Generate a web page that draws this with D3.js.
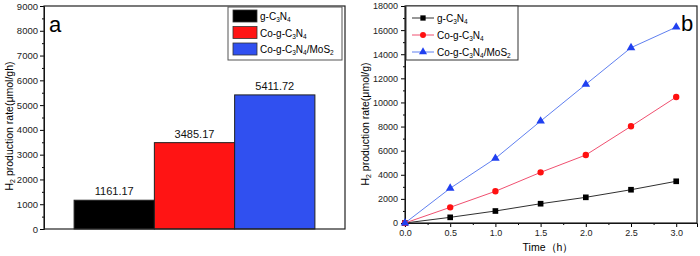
<!DOCTYPE html>
<html>
<head>
<meta charset="utf-8">
<script src="https://cdn.jsdelivr.net/npm/d3@7"></script>
<style>
  body { margin: 0; background: #fff; }
  svg { display: block; font-family: "Liberation Sans", Arial, sans-serif; }
</style>
</head>
<body>
<svg id="chart" width="700" height="256"></svg>
<script>
// panel a: bar values
const barCategories = ["g-C_{3}N_{4}", "Co-g-C_{3}N_{4}", "Co-g-C_{3}N_{4}/MoS_{2}"];
const barValues = [1161.17, 3485.17, 5411.72];
const barColors = ["#000000", "#ff1414", "#3050f0"];
const barTicks = [0, 1000, 2000, 3000, 4000, 5000, 6000, 7000, 8000, 9000];

// panel b: time series
const times = [0, 0.5, 1.0, 1.5, 2.0, 2.5, 3.0];
const seriesNames = ["g-C_{3}N_{4}", "Co-g-C_{3}N_{4}", "Co-g-C_{3}N_{4}/MoS_{2}"];
const gcnValues = [0, 470, 995, 1600, 2130, 2760, 3460];
const cogcnValues = [0, 1300, 2630, 4200, 5640, 8020, 10450];
const comosValues = [0, 2880, 5360, 8450, 11500, 14540, 16250];
const lineColors = ["#303030", "#f05070", "#6080f0"];
const markerColors = ["#000000", "#ff1010", "#2040f0"];
const timeTicks = [0, 0.5, 1.0, 1.5, 2.0, 2.5, 3.0];
const rateTicks = [0, 2000, 4000, 6000, 8000, 10000, 12000, 14000, 16000, 18000];

const svg = d3.select("#chart");

// write "a_{b}" style text with subscripts into a text element
function richText(sel, label, subSize) {
  const parts = label.split(/(_\{[^}]*\})/).filter(p => p.length);
  parts.forEach(p => {
    if (p.startsWith("_{")) {
      sel.append("tspan").attr("baseline-shift", "-30%")
        .style("font-size", subSize + "px").text(p.slice(2, -1));
    } else {
      sel.append("tspan").text(p);
    }
  });
}

function minorTicks(major) {
  const out = [];
  for (let i = 0; i < major.length - 1; i++) out.push((major[i] + major[i + 1]) / 2);
  return out;
}

// ---------- panel a ----------
const A = { left: 44, top: 6, width: 301, height: 223 };
const ga = svg.append("g").attr("transform", `translate(${A.left},${A.top})`);

const xa = d3.scaleBand().domain(barCategories).range([0, A.width])
  .paddingInner(0).paddingOuter(0.375);
const ya = d3.scaleLinear().domain([0, 9000]).range([A.height, 0]);

ga.selectAll("rect.bar")
  .data(barValues)
  .enter().append("rect")
  .attr("class", "bar")
  .attr("x", (d, i) => xa(barCategories[i]))
  .attr("y", d => ya(d))
  .attr("width", xa.bandwidth())
  .attr("height", d => A.height - ya(d))
  .style("fill", (d, i) => barColors[i])
  .style("stroke", "#202020")
  .style("stroke-width", 1);

ga.selectAll("text.val")
  .data(barValues)
  .enter().append("text")
  .attr("class", "val")
  .attr("x", (d, i) => xa(barCategories[i]) + xa.bandwidth() / 2)
  .attr("y", d => ya(d) - 5)
  .attr("text-anchor", "middle")
  .style("font-size", "11px")
  .style("fill", "#111")
  .text(d => d.toFixed(2));

// axes
ga.append("g")
  .call(d3.axisLeft(ya).tickValues(barTicks).tickSize(4).tickPadding(2).tickFormat(d3.format("d")))
  .call(g => g.selectAll("text").style("font-size", "9.5px").style("fill", "#222"));
ga.append("g")
  .call(d3.axisLeft(ya).tickValues(minorTicks(barTicks)).tickSize(2).tickFormat(""))
  .call(g => g.select(".domain").remove());
ga.append("rect").attr("width", A.width).attr("height", A.height)
  .style("fill", "none").style("stroke", "#222").style("stroke-width", 1.2);

ga.append("text").attr("x", 5).attr("y", 26)
  .style("font-size", "22px").text("a");

svg.append("text")
  .attr("transform", `translate(13,126) rotate(-90)`)
  .attr("text-anchor", "middle")
  .style("font-size", "10.5px")
  .call(t => richText(t, "H_{2} production rate(μmol/gh)", 7));

// legend a
const la = svg.append("g").attr("transform", "translate(228,7)");
la.append("rect").attr("width", 114).attr("height", 53)
  .style("fill", "#fff").style("stroke", "#555").style("stroke-width", 1);
barCategories.forEach((c, i) => {
  la.append("rect").attr("x", 5).attr("y", 3 + i * 16.5).attr("width", 24).attr("height", 12)
    .style("fill", barColors[i]).style("stroke", "#333").style("stroke-width", 0.8);
  la.append("text").attr("x", 32).attr("y", 13 + i * 16.5)
    .style("font-size", "10px")
    .call(t => richText(t, c, 6.5));
});

// ---------- panel b ----------
const B = { left: 405, top: 6, width: 292, height: 217 };
const gb = svg.append("g").attr("transform", `translate(${B.left},${B.top})`);

const xb = d3.scaleLinear().domain([0, 3.23]).range([0, B.width]);
const yb = d3.scaleLinear().domain([0, 18000]).range([B.height, 0]);

gb.append("g").attr("transform", `translate(0,${B.height})`)
  .call(d3.axisBottom(xb).tickValues(timeTicks).tickSize(4).tickPadding(3).tickFormat(d3.format(".1f")))
  .call(g => g.selectAll("text").style("font-size", "9px").style("fill", "#222"));
gb.append("g").attr("transform", `translate(0,${B.height})`)
  .call(d3.axisBottom(xb).tickValues(minorTicks(timeTicks)).tickSize(2).tickFormat(""))
  .call(g => g.select(".domain").remove());
gb.append("g")
  .call(d3.axisLeft(yb).tickValues(rateTicks).tickSize(4).tickPadding(3).tickFormat(d3.format("d")))
  .call(g => g.selectAll("text").style("font-size", "9px").style("fill", "#222"));
gb.append("g")
  .call(d3.axisLeft(yb).tickValues(minorTicks(rateTicks)).tickSize(2).tickFormat(""))
  .call(g => g.select(".domain").remove());
gb.append("rect").attr("width", B.width).attr("height", B.height)
  .style("fill", "none").style("stroke", "#222").style("stroke-width", 1.2);

const seriesData = [gcnValues, cogcnValues, comosValues];
const symbols = [d3.symbolSquare, d3.symbolCircle, d3.symbolTriangle];
const line = d3.line().x((d, i) => xb(times[i])).y(d => yb(d));

seriesData.forEach((vals, s) => {
  gb.append("path").datum(vals).attr("d", line)
    .style("fill", "none").style("stroke", lineColors[s]).style("stroke-width", 1);
  gb.selectAll(`path.m${s}`)
    .data(vals)
    .enter().append("path")
    .attr("class", `m${s}`)
    .attr("transform", (d, i) => `translate(${xb(times[i])},${yb(d)})`)
    .attr("d", d3.symbol().type(symbols[s]).size(32))
    .style("fill", markerColors[s]);
});

gb.append("text").attr("x", B.width - 16).attr("y", 25)
  .style("font-size", "22px").text("b");

svg.append("text")
  .attr("transform", `translate(369,124) rotate(-90)`)
  .attr("text-anchor", "middle")
  .style("font-size", "10.5px")
  .call(t => richText(t, "H_{2} production rate(μmol/g)", 7));

svg.append("text")
  .attr("x", 548).attr("y", 251)
  .attr("text-anchor", "middle")
  .style("font-size", "10.5px")
  .text("Time（h）");

// legend b
const lb = svg.append("g").attr("transform", `translate(${B.left + 1},${B.top})`);
lb.append("rect").attr("width", 112).attr("height", 54)
  .style("fill", "#fff").style("stroke", "#333").style("stroke-width", 1);
seriesNames.forEach((n, i) => {
  const yy = 12 + i * 17;
  lb.append("line").attr("x1", 6).attr("x2", 28).attr("y1", yy).attr("y2", yy)
    .style("stroke", lineColors[i]).style("stroke-width", 1);
  lb.append("path").attr("transform", `translate(17,${yy})`)
    .attr("d", d3.symbol().type(symbols[i]).size(28))
    .style("fill", markerColors[i]);
  lb.append("text").attr("x", 31).attr("y", yy + 4)
    .style("font-size", "10px")
    .call(t => richText(t, n, 6.5));
});
</script>
</body>
</html>
